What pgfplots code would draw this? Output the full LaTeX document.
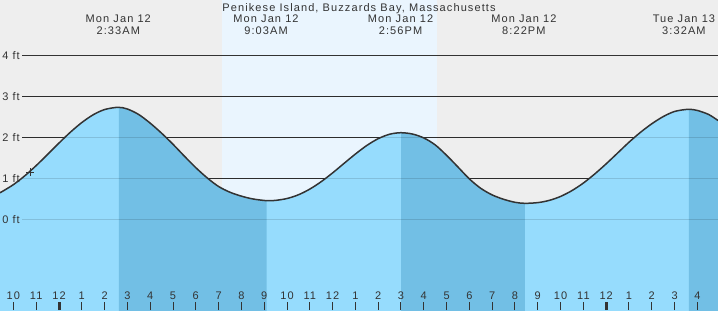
\documentclass[border=0pt]{standalone}
\usepackage{fontspec}
\setmainfont{Liberation Sans}[LetterSpace=10]
\usepackage{pgfplots}
\usepackage{pgfplotstable}
\pgfplotsset{compat=1.18}
\usepgfplotslibrary{fillbetween}
\definecolor{bg}{HTML}{EEEEEE}
\definecolor{day}{HTML}{EAF5FE}
\definecolor{lt}{HTML}{96DCFD}
\definecolor{dk}{HTML}{72BFE5}
\definecolor{ink}{HTML}{333333}
\pgfplotstableread{
t h
-2.588 0.650
-2.5 0.675
-2 0.846
-1.5 1.061
-1 1.311
-0.5 1.582
0 1.860
0.5 2.125
1 2.360
1.5 2.550
2 2.677
2.59 2.732
3 2.690
3.5 2.555
4 2.345
4.5 2.100
5 1.830
5.5 1.540
6 1.260
6.5 1.010
7 0.800
7.5 0.660
8 0.565
8.5 0.497
9.11 0.454
9.5 0.462
10 0.507
10.5 0.598
11 0.737
11.5 0.918
12 1.132
12.5 1.363
13 1.592
13.5 1.801
14 1.967
14.5 2.075
14.99 2.112
15.5 2.080
16 1.985
16.5 1.815
17 1.560
17.5 1.275
18 0.985
18.5 0.755
19 0.595
19.5 0.488
20 0.415
20.43 0.390
21 0.407
21.5 0.461
22 0.558
22.5 0.701
23 0.885
23.5 1.107
24 1.354
24.5 1.616
25 1.880
25.5 2.120
26 2.330
26.5 2.505
27 2.630
27.59 2.683
28 2.655
28.5 2.555
28.904 2.410
}\tide
\newcommand\lab{\fontsize{11}{13}\selectfont}
\begin{document}
\begin{tikzpicture}
\begin{axis}[
 set layers,
 width=718pt, height=310pt, scale only axis,
 xmin=-2.588, xmax=28.904, ymin=-2.212, ymax=5.349,
 axis x line=bottom, axis y line=none,
 x axis line style={draw=none},
 axis on top,
 xtick={-2,...,28},
 xticklabels={10,11,12,1,2,3,4,5,6,7,8,9,10,11,12,1,2,3,4,5,6,7,8,9,10,11,12,1,2,3,4},
 xtick align=inside,
 major tick length=8pt,
 tick style={ink, line width=1pt},
 xticklabel shift=-22pt,
 ticklabel style={font=\lab, text=ink},
 extra x ticks={0,24},
 extra x tick labels={},
 extra x tick style={major tick style={ink, line width=3pt}},
]
\begin{pgfonlayer}{axis background}
\fill[bg] (rel axis cs:0,0) rectangle (rel axis cs:1,1);
\fill[day] (axis cs:7.15,-2.212) rectangle (axis cs:16.59,5.349);
\draw[ink, line width=1pt] (axis cs:-1.623,0) -- (axis cs:28.904,0);
\draw[ink, line width=1pt] (axis cs:-1.623,1) -- (axis cs:28.904,1);
\draw[ink, line width=1pt] (axis cs:-1.623,2) -- (axis cs:28.904,2);
\draw[ink, line width=1pt] (axis cs:-1.623,3) -- (axis cs:28.904,3);
\draw[ink, line width=1pt] (axis cs:-1.623,4) -- (axis cs:28.904,4);
\end{pgfonlayer}
\addplot[draw=none, name path=tide, smooth] table {\tide};
\path[name path=bottom] (axis cs:-2.588,-2.3) -- (axis cs:28.904,-2.3);
\addplot[lt] fill between[of=tide and bottom];
\addplot[dk] fill between[of=tide and bottom, soft clip={domain=2.63:9.11}];
\addplot[dk] fill between[of=tide and bottom, soft clip={domain=15.01:20.43}];
\addplot[dk] fill between[of=tide and bottom, soft clip={domain=27.63:28.904}];
\draw[black, opacity=0.13, line width=1pt] (axis cs:-1.623,0) -- (axis cs:28.904,0);
\draw[black, opacity=0.13, line width=1pt] (axis cs:-1.623,1) -- (axis cs:28.904,1);
\draw[black, opacity=0.13, line width=1pt] (axis cs:-1.623,2) -- (axis cs:28.904,2);
\draw[black, opacity=0.13, line width=1pt] (axis cs:-1.623,3) -- (axis cs:28.904,3);
\addplot[ink, line width=1.5pt, smooth] table {\tide};
\addplot[ink, only marks, mark=+, mark size=4pt, mark options={line width=1pt}] coordinates {(-1.272,1.146)};
\node[anchor=east, inner sep=0pt, text=ink, font=\lab] at (axis cs:-1.711,0) {0 ft};
\node[anchor=east, inner sep=0pt, text=ink, font=\lab] at (axis cs:-1.711,1) {1 ft};
\node[anchor=east, inner sep=0pt, text=ink, font=\lab] at (axis cs:-1.711,2) {2 ft};
\node[anchor=east, inner sep=0pt, text=ink, font=\lab] at (axis cs:-1.711,3) {3 ft};
\node[anchor=east, inner sep=0pt, text=ink, font=\lab] at (axis cs:-1.711,4) {4 ft};
\node[anchor=base, text=ink, font=\lab] at (axis cs:13.16,5.08) {Penikese Island, Buzzards Bay, Massachusetts};
\node[anchor=base, text=ink, font=\lab] at (axis cs:2.60,4.795) {Mon Jan 12};
\node[anchor=base, text=ink, font=\lab] at (axis cs:2.60,4.507) {2:33AM};
\node[anchor=base, text=ink, font=\lab] at (axis cs:9.08,4.795) {Mon Jan 12};
\node[anchor=base, text=ink, font=\lab] at (axis cs:9.08,4.507) {9:03AM};
\node[anchor=base, text=ink, font=\lab] at (axis cs:14.98,4.795) {Mon Jan 12};
\node[anchor=base, text=ink, font=\lab] at (axis cs:14.98,4.507) {2:56PM};
\node[anchor=base, text=ink, font=\lab] at (axis cs:20.39,4.795) {Mon Jan 12};
\node[anchor=base, text=ink, font=\lab] at (axis cs:20.39,4.507) {8:22PM};
\node[anchor=base, text=ink, font=\lab] at (axis cs:27.41,4.795) {Tue Jan 13};
\node[anchor=base, text=ink, font=\lab] at (axis cs:27.41,4.507) {3:32AM};
\end{axis}
\end{tikzpicture}
\end{document}
